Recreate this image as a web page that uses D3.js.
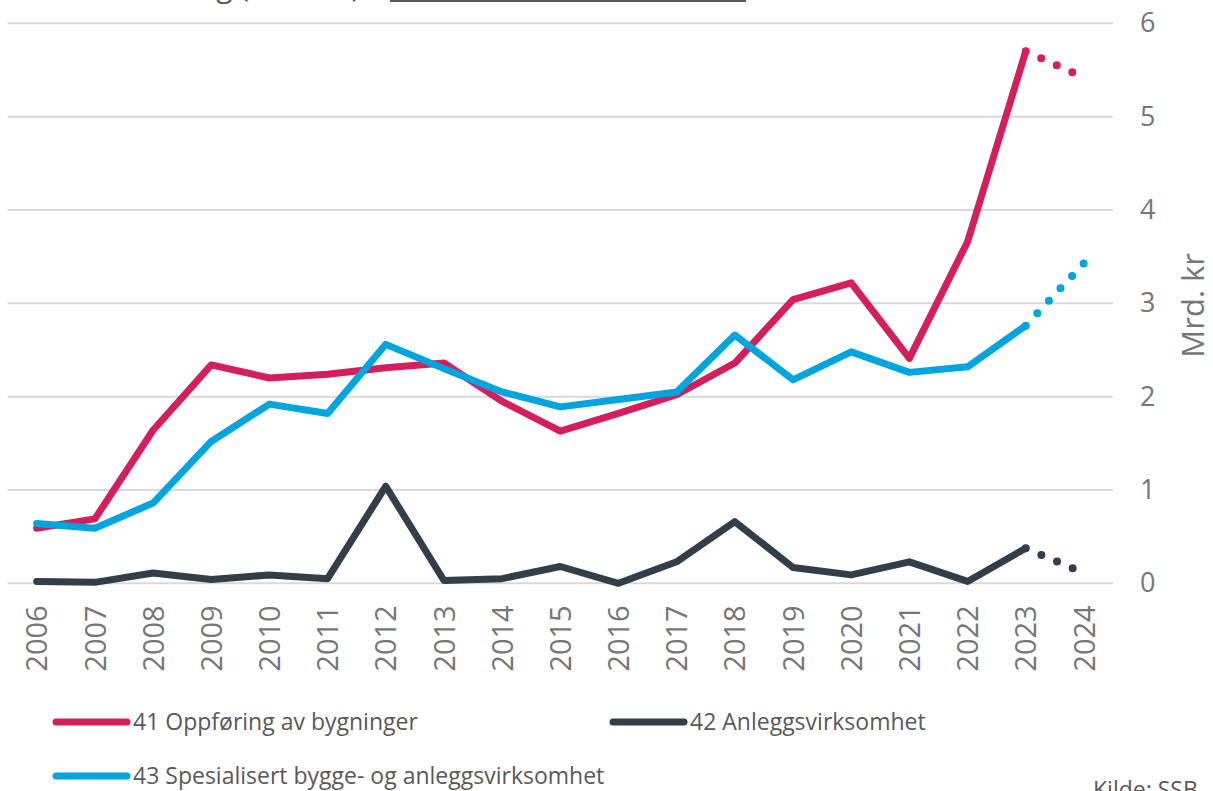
<!DOCTYPE html>
<html>
<head>
<meta charset="utf-8">
<script src="https://cdn.jsdelivr.net/npm/d3@7"></script>
<style>
  body { margin: 0; background: #fff; }
  svg text { font-family: "Open Sans", sans-serif; }
</style>
</head>
<body>
<div id="chart"></div>
<script>
const years = ["2006","2007","2008","2009","2010","2011","2012","2013","2014","2015","2016","2017","2018","2019","2020","2021","2022","2023","2024"];

// 2024 er anslag (stiplet)
const oppforing = [0.59, 0.69, 1.64, 2.34, 2.20, 2.24, 2.31, 2.36, 1.95, 1.63, 1.82, 2.02, 2.36, 3.04, 3.22, 2.41, 3.66, 5.70, 5.42];
const anlegg = [0.02, 0.01, 0.11, 0.04, 0.09, 0.05, 1.04, 0.03, 0.05, 0.18, 0.00, 0.23, 0.66, 0.17, 0.09, 0.23, 0.02, 0.375, 0.11];
const spesialisert = [0.64, 0.59, 0.86, 1.52, 1.92, 1.82, 2.56, 2.30, 2.05, 1.89, 1.97, 2.05, 2.66, 2.18, 2.48, 2.26, 2.32, 2.76, 3.43];

const yTicks = [0, 1, 2, 3, 4, 5, 6];

const series = [
  { name: "41 Oppføring av bygninger", values: oppforing, color: "#D51E5C" },
  { name: "42 Anleggsvirksomhet", values: anlegg, color: "#323E48" },
  { name: "43 Spesialisert bygge- og anleggsvirksomhet", values: spesialisert, color: "#00A5E0" }
];

const W = 1213, H = 791;
const plot = { left: 7.6, right: 1113, top: 23.3, bottom: 583.3 };

const svg = d3.select("#chart").append("svg")
  .attr("width", W)
  .attr("height", H);

const x = d3.scalePoint()
  .domain(years)
  .range([plot.left, plot.right])
  .padding(0.5);

const y = d3.scaleLinear()
  .domain([0, 6])
  .range([plot.bottom, plot.top]);

// cut-off title at the top
svg.append("text")
  .attr("x", 360)
  .attr("y", -3)
  .attr("text-anchor", "end")
  .attr("font-size", 30)
  .attr("fill", "#595959")
  .text("Omsetning (mrd. kr)");
svg.append("line")
  .attr("x1", 390).attr("x2", 746)
  .attr("y1", 0.5).attr("y2", 0.5)
  .attr("stroke", "#595959")
  .attr("stroke-width", 3);

// gridlines
svg.append("g")
  .attr("class", "grid")
  .selectAll("line")
  .data(yTicks)
  .join("line")
  .attr("x1", plot.left)
  .attr("x2", plot.right)
  .attr("y1", d => y(d))
  .attr("y2", d => y(d))
  .attr("stroke", "#d9d9d9")
  .attr("stroke-width", 2);

// y axis on the right
const yAxis = d3.axisRight(y)
  .tickValues(yTicks)
  .tickSize(0)
  .tickPadding(0)
  .tickFormat(d3.format("d"));

svg.append("g")
  .attr("class", "axis y-axis")
  .attr("transform", `translate(1140,0)`)
  .call(yAxis)
  .call(g => g.select(".domain").remove())
  .selectAll("text")
  .attr("font-size", 27)
  .attr("fill", "#767676")
  .attr("font-family", "Open Sans, sans-serif");

svg.append("text")
  .attr("transform", `translate(1204,${(plot.top + plot.bottom) / 2 + 2}) rotate(-90)`)
  .attr("text-anchor", "middle")
  .attr("font-size", 31)
  .attr("fill", "#767676")
  .text("Mrd. kr");

// x axis labels, rotated
const xAxis = d3.axisBottom(x)
  .tickSize(0)
  .tickPadding(0);

svg.append("g")
  .attr("class", "axis x-axis")
  .attr("transform", `translate(0,${plot.bottom})`)
  .call(xAxis)
  .call(g => g.select(".domain").remove())
  .selectAll("text")
  .attr("font-size", 29)
  .attr("fill", "#767676")
  .attr("font-family", "Open Sans, sans-serif")
  .attr("text-anchor", "end")
  .attr("transform", "translate(0,22) rotate(-90)")
  .attr("x", 0)
  .attr("y", 0)
  .attr("dy", "0.35em");

// lines
const line = d3.line()
  .x(d => x(d.year))
  .y(d => y(d.value));

series.forEach(s => {
  const pts = years.map((yr, i) => ({ year: yr, value: s.values[i] }));
  const solid = pts.slice(0, pts.length - 1);
  const dotted = pts.slice(pts.length - 2);

  svg.append("path")
    .datum(dotted)
    .attr("fill", "none")
    .attr("stroke", s.color)
    .attr("stroke-width", 8)
    .attr("stroke-linecap", "round")
    .attr("stroke-dasharray", "0 17")
    .attr("d", line);

  svg.append("path")
    .datum(solid)
    .attr("fill", "none")
    .attr("stroke", s.color)
    .attr("stroke-width", 7)
    .attr("stroke-linecap", "round")
    .attr("stroke-linejoin", "round")
    .attr("d", line);
});

// legend
const legendPos = [
  { x: 53, y: 722 },
  { x: 610, y: 722 },
  { x: 53, y: 776 }
];

const legend = svg.append("g").attr("class", "legend");
series.forEach((s, i) => {
  const p = legendPos[i];
  legend.append("line")
    .attr("x1", p.x + 3).attr("x2", p.x + 74)
    .attr("y1", p.y).attr("y2", p.y)
    .attr("stroke", s.color)
    .attr("stroke-width", 7)
    .attr("stroke-linecap", "round");
  legend.append("text")
    .attr("x", p.x + 80)
    .attr("y", p.y)
    .attr("dy", "0.35em")
    .attr("font-size", 23)
    .attr("fill", "#595959")
    .text(s.name);
});

svg.append("text")
  .attr("x", 1093)
  .attr("y", 798)
  .attr("font-size", 23)
  .attr("fill", "#595959")
  .text("Kilde: SSB");
</script>
</body>
</html>
